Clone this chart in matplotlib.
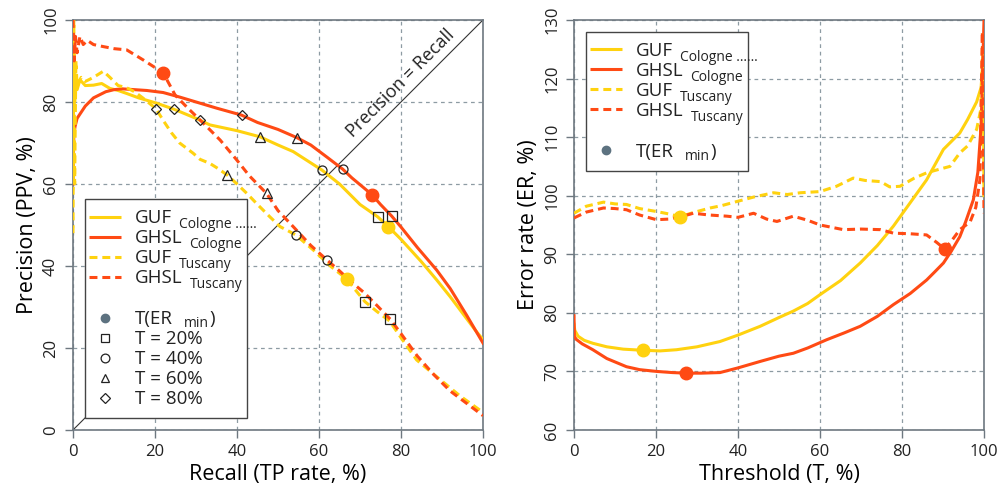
import matplotlib
matplotlib.use("Agg")
import matplotlib.pyplot as plt
from matplotlib.patches import Rectangle

plt.rcParams['font.family'] = ['Open Sans', 'DejaVu Sans']

YELLOW = '#FFD20F'
RED = '#FF4A14'
GRID = '#8d9ba3'
SPINE = '#6e7880'
DOT = '#5d7280'

# ---- left panel: precision vs recall ----
guf_col_x = [0, 0.1, 0.2, 0.4, 0.7, 1.0, 1.7, 3, 5, 7, 9, 11, 13, 16, 20.4, 24.7, 30, 33.4, 40,
             45.6, 50, 53.7, 60.7, 65, 70, 74.3, 76.9, 80, 85, 88.7, 92, 95, 98, 100]
guf_col_y = [100, 84, 92, 80, 86, 83, 85.4, 84, 84.1, 84.5, 83.3, 82.8, 82.1, 81, 79.7, 78.2, 76, 74.4, 73,
             71.5, 69.5, 67.9, 63.4, 60, 55, 52, 49.6, 46.5, 41, 36.6, 32.5, 28.5, 24.5, 22]

ghsl_col_x = [0, 0.2, 0.5, 1, 2, 3, 4, 5, 6, 8, 10, 12, 15, 18, 22, 26, 30, 35, 41.1, 45, 50, 54.6,
              58, 62, 65.8, 68, 71, 73, 75, 77.7, 80, 84, 88.7, 92, 96, 100]
ghsl_col_y = [60, 72, 74, 76, 77.5, 79, 80, 81, 81.5, 82.5, 83, 83.2, 83, 82.8, 82.3, 81.2, 80, 78.5, 76.8, 75, 73.3, 71.3,
              69.5, 66.5, 63.6, 61.5, 59, 57.3, 55, 52.2, 49.5, 44.5, 39, 34.5, 28, 21.2]

guf_tus_x = [0, 0.2, 0.4, 0.7, 1, 2, 3, 5, 7.4, 9, 11, 13, 15, 17, 20.2, 22, 24, 26, 29.3, 31, 33.4, 35,
             37.6, 40, 42.4, 45, 48, 50.5, 54.3, 58.6, 63, 66.8, 69, 71.2, 74, 77.2, 79.8, 83.8, 88.7, 94.4, 100]
guf_tus_y = [48, 100, 60, 90, 84, 86, 85, 86, 87.5, 86, 84, 83.5, 82.5, 81, 78.4, 75.5, 72.5, 70, 67.5, 66, 65, 64,
             62.2, 60, 57.7, 55, 52, 49.6, 47.6, 43.9, 39.8, 36.8, 34, 31.3, 29, 26.6, 22.8, 17.1, 13, 8.3, 4.3]

ghsl_tus_x = [0, 0.3, 0.6, 1, 1.7, 2.5, 3.5, 5, 7.4, 10, 13.1, 17.2, 22, 24.9, 28, 31, 35.9, 39.9, 43,
              47.2, 50, 53.7, 58, 61.9, 65, 68, 71, 74, 77.4, 80, 84, 88, 92, 96, 100]
ghsl_tus_y = [100, 90, 96, 92, 96, 94, 95, 94, 93.5, 93, 92.7, 90.2, 87.1, 81.7, 78.5, 75.6, 70.7, 65.9, 62,
              57.7, 53.5, 49.6, 45, 41.5, 38.8, 36, 33.5, 30.5, 27.0, 23.5, 18, 13.5, 9.5, 6.5, 3.5]

# markers on the PR curves (order: GUF Cologne, GHSL Cologne, GUF Tuscany, GHSL Tuscany)
ermin_pr_x = [76.9, 73.0, 66.8, 22.0]
ermin_pr_y = [49.6, 57.3, 36.8, 87.1]
t20_x = [74.3, 77.7, 71.2, 77.2]
t20_y = [52.0, 52.2, 31.3, 27.0]
t40_x = [60.7, 65.8, 54.3, 61.9]
t40_y = [63.4, 63.6, 47.6, 41.5]
t60_x = [45.6, 54.6, 37.6, 47.2]
t60_y = [71.5, 71.3, 62.2, 57.7]
t80_x = [24.7, 41.1, 20.2, 31.0]
t80_y = [78.2, 76.8, 78.4, 75.6]

# ---- right panel: error rate vs threshold ----
er_guf_col_x = [0, 0.2, 1, 2.5, 4.6, 8, 12, 16.9, 21, 25, 30, 35.6, 40, 45.4, 50, 53.5, 57, 60, 65, 69.8,
                74, 77.9, 82, 86, 90.1, 94.1, 96, 98.2, 99.3, 99.8, 100]
er_guf_col_y = [78, 77, 76, 75.3, 74.8, 74.2, 73.8, 73.6, 73.5, 73.7, 74.2, 75.1, 76.2, 77.7, 79.2, 80.3, 81.6, 83.1, 85.5, 88.5,
                91.5, 94.8, 98.8, 102.7, 107.9, 110.7, 113, 116, 118.5, 124, 100]

er_ghsl_col_x = [0, 0.1, 0.5, 2, 4.6, 8, 12.8, 16, 20.1, 24, 27.4, 31, 35.6, 40, 45.4, 50, 53.5, 57, 61.6,
                 66, 69.8, 74, 77.9, 82, 86, 88, 90.1, 92, 94.1, 95.5, 97.4, 98.5, 99.3, 100]
er_ghsl_col_y = [79.5, 76, 75.5, 74.7, 73.7, 72.2, 70.8, 70.3, 70.0, 69.8, 69.7, 69.7, 69.8, 70.6, 71.7, 72.6, 73.1, 74.0, 75.4,
                 76.6, 77.7, 79.4, 81.4, 83.3, 85.6, 87, 88.5, 90.5, 93.0, 95.5, 99.3, 104, 112, 130]

er_guf_tus_x = [0, 3, 7.2, 10, 12.8, 16, 20.1, 23, 25.9, 29, 33.2, 36, 39.7, 44, 48.7, 52, 55.2, 60, 64,
                68.1, 71, 74.8, 77, 79.5, 83, 86, 88, 91.7, 94.1, 96, 98.2, 99.3, 99.7, 100]
er_guf_tus_y = [97.0, 98.2, 98.9, 98.6, 98.5, 97.8, 97.3, 96.9, 96.4, 97.1, 97.9, 98.3, 99.0, 99.8, 100.5, 100.2, 100.5, 100.7, 101.6,
                103.0, 102.6, 102.4, 101.5, 101.6, 103.0, 103.9, 104.3, 105.0, 107.3, 108.5, 111.3, 115, 128, 100]

er_ghsl_tus_x = [0, 3, 7.2, 10, 12.8, 16, 20.1, 23, 26, 29.1, 33, 37.3, 40, 43.8, 47, 49.5, 53.5, 57, 60,
                 65.7, 70, 74.8, 77.9, 82, 86, 88.5, 90.4, 92, 94.1, 96.6, 98, 99, 99.6, 100]
er_ghsl_tus_y = [96.2, 97.2, 97.9, 97.8, 97.6, 96.7, 95.9, 96.0, 96.4, 97.0, 96.7, 96.5, 96.3, 97.0, 96.0, 95.6, 96.5, 95.8, 95.0,
                 94.2, 94.3, 94.2, 93.6, 93.5, 93.3, 92.0, 90.9, 92.2, 94.2, 95.5, 98, 102.7, 128, 97]

ermin_t_x = [16.9, 27.4, 25.9, 90.4]
ermin_t_y = [73.6, 69.7, 96.4, 90.9]

colors = [YELLOW, RED, YELLOW, RED]
names = ['GUF', 'GHSL', 'GUF', 'GHSL']
regions = ['Cologne ……', 'Cologne', 'Tuscany', 'Tuscany']
thresholds = ['T = 20%', 'T = 40%', 'T = 60%', 'T = 80%']
DASH = (0, (2.6, 1.6))
styles = ['-', '-', DASH, DASH]

FS_MAIN = 13.5
FS_SUB = 10


def style_axes(ax):
    ax.grid(True, color=GRID, linestyle=(0, (3, 3)), linewidth=0.9)
    for s in ax.spines.values():
        s.set_color(SPINE)
        s.set_linewidth(1.2)
    ax.tick_params(direction='out', length=6, width=1, color=SPINE, labelsize=12,
                   labelcolor='#222222', pad=4)
    for lab in ax.get_yticklabels():
        lab.set_rotation(90)
        lab.set_va('center')


def sub_label(ax, x, yc, main, sub, tail=None, gap=5, drop=3.3):
    # main text, lowered subscript, optional closing text, all in axes fraction
    yb = yc - 0.016
    t = ax.text(x, yb, main, transform=ax.transAxes, fontsize=FS_MAIN, va='baseline',
                ha='left', color='#222222', zorder=11)
    s = ax.annotate(sub, xy=(1, yb), xycoords=(t, ax.transAxes), xytext=(gap, -drop),
                    textcoords='offset points', fontsize=FS_SUB, va='baseline', ha='left',
                    color='#222222', zorder=11)
    if tail:
        ax.annotate(tail, xy=(1, yb), xycoords=(s, ax.transAxes), xytext=(0.5, 0),
                    textcoords='offset points', fontsize=FS_MAIN, va='baseline', ha='left',
                    color='#222222', zorder=11)


def draw_legend(ax, top, bottom, with_t):
    ax.add_patch(Rectangle((0.03, bottom), 0.395, top - bottom, transform=ax.transAxes,
                           facecolor='white', edgecolor='#444444', lw=1.0, zorder=10))
    ys = [top - 0.043 - 0.0487 * i for i in range(4)]
    for y, c, s, n, r in zip(ys, colors, styles, names, regions):
        ax.plot([0.039, 0.117], [y, y], transform=ax.transAxes, color=c, lw=2.2,
                linestyle=s, zorder=11, solid_capstyle='butt')
        sub_label(ax, 0.151, y, n, r)
    y = ys[-1] - 0.1
    ax.plot(0.078, y, 'o', transform=ax.transAxes, color=DOT, ms=6, zorder=11)
    sub_label(ax, 0.151, y, 'T(ER', 'min', ')', gap=8, drop=2.0)
    if with_t:
        for i, (m, lab) in enumerate(zip(['s', 'o', '^', 'D'], thresholds)):
            yy = y - 0.049 * (i + 1)
            ax.plot(0.078, yy, m, transform=ax.transAxes, mfc='none', mec='#222222',
                    mew=0.9, ms=5.5 if m == 'D' else 6.3, zorder=11)
            ax.text(0.151, yy - 0.016, lab, transform=ax.transAxes, fontsize=FS_MAIN,
                    va='baseline', ha='left', color='#222222', zorder=11)


fig = plt.figure(figsize=(10, 4.94), dpi=100)
ax1 = fig.add_axes([0.073, 0.1296, 0.41, 0.83])
ax2 = fig.add_axes([0.574, 0.1296, 0.41, 0.83])

# left panel
ax1.plot([0, 100], [0, 100], color='#333333', lw=0.8, zorder=2)
ax1.text(79.8, 84.6, 'Precision = Recall', rotation=45, rotation_mode='anchor',
         ha='center', va='center', fontsize=13, color='#222222')
pr_x = [guf_col_x, ghsl_col_x, guf_tus_x, ghsl_tus_x]
pr_y = [guf_col_y, ghsl_col_y, guf_tus_y, ghsl_tus_y]
for xs, ys, c, s in zip(pr_x, pr_y, colors, styles):
    ax1.plot(xs, ys, color=c, lw=2.2, linestyle=s, zorder=3)
for xx, yy, c in zip(ermin_pr_x, ermin_pr_y, colors):
    ax1.plot(xx, yy, 'o', color=c, ms=9, zorder=4)
mk = dict(mfc='none', mec='#222222', mew=0.9, ms=6.5, linestyle='none', zorder=4)
ax1.plot(t20_x, t20_y, 's', **mk)
ax1.plot(t40_x, t40_y, 'o', **mk)
ax1.plot(t60_x, t60_y, '^', **mk)
ax1.plot(t80_x, t80_y, 'D', **dict(mk, ms=5.5))

ax1.set_xlim(0, 100)
ax1.set_ylim(0, 100)
ax1.set_xticks(range(0, 101, 20))
ax1.set_yticks(range(0, 101, 20))
ax1.set_xlabel('Recall (TP rate, %)', fontsize=15.5, labelpad=3)
ax1.set_ylabel('Precision (PPV, %)', fontsize=15.5, labelpad=4)
style_axes(ax1)
draw_legend(ax1, 0.5634, 0.0293, True)

# right panel
er_x = [er_guf_col_x, er_ghsl_col_x, er_guf_tus_x, er_ghsl_tus_x]
er_y = [er_guf_col_y, er_ghsl_col_y, er_guf_tus_y, er_ghsl_tus_y]
for xs, ys, c, s in zip(er_x, er_y, colors, styles):
    ax2.plot(xs, ys, color=c, lw=2.2, linestyle=s, zorder=3)
for xx, yy, c in zip(ermin_t_x, ermin_t_y, colors):
    ax2.plot(xx, yy, 'o', color=c, ms=9, zorder=4)

ax2.set_xlim(0, 100)
ax2.set_ylim(60, 130)
ax2.set_xticks(range(0, 101, 20))
ax2.set_yticks(range(60, 131, 10))
ax2.set_xlabel('Threshold (T, %)', fontsize=15.5, labelpad=3)
ax2.set_ylabel('Error rate (ER, %)', fontsize=15.5, labelpad=4)
style_axes(ax2)
draw_legend(ax2, 0.971, 0.632, False)

fig.savefig('out.png', dpi=100)
